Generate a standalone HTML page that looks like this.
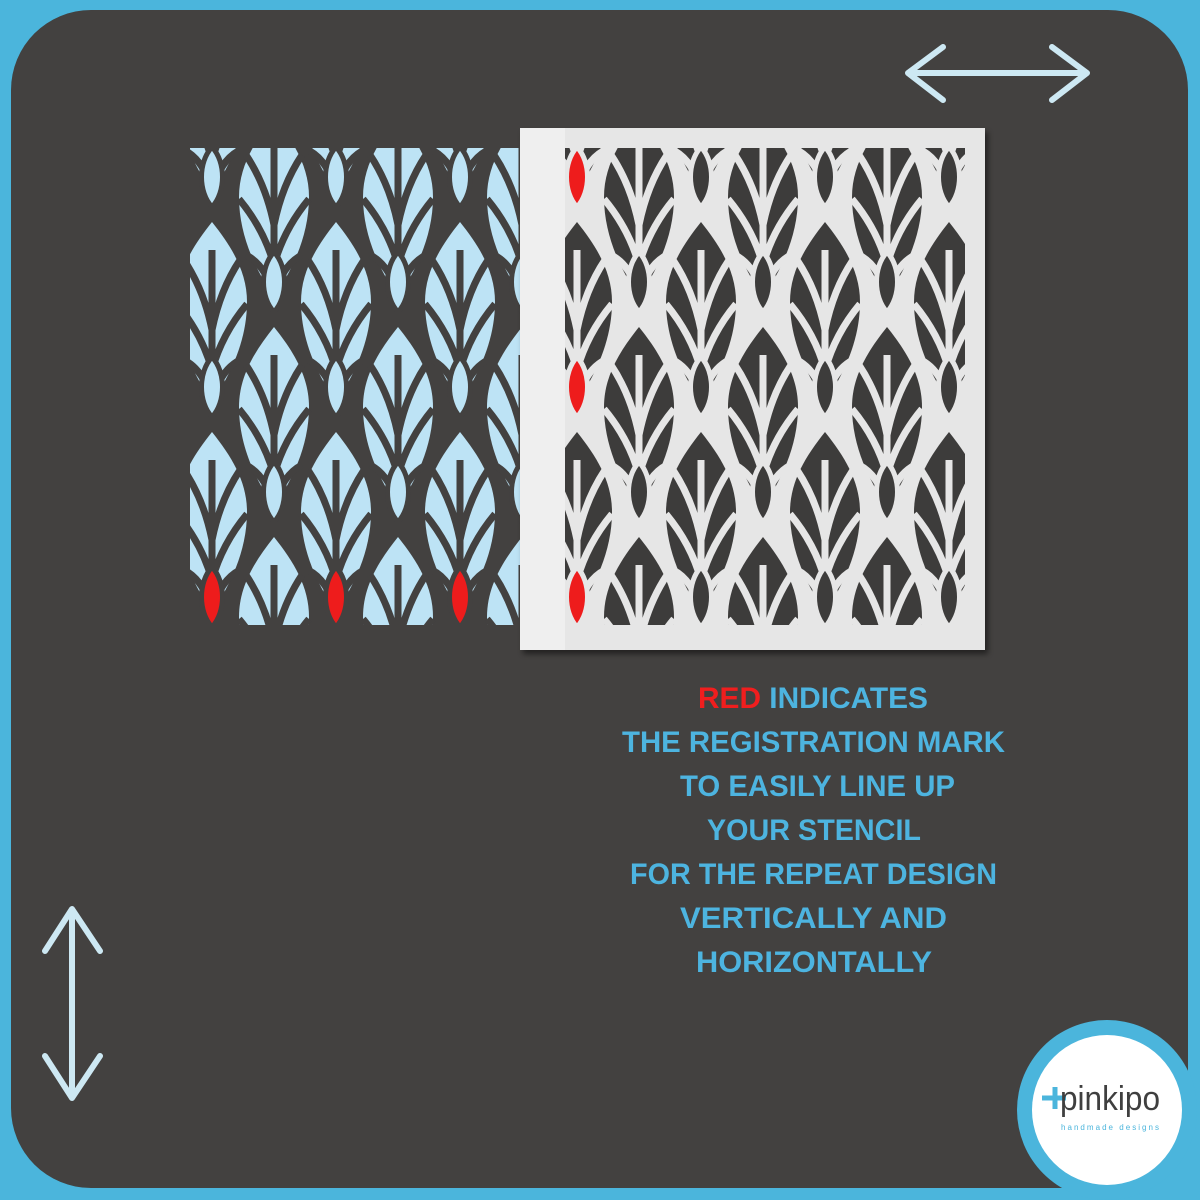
<!DOCTYPE html>
<html><head><meta charset="utf-8"><style>html,body{margin:0;padding:0;background:#4BB5DC}svg{display:block}</style></head>
<body>
<svg id="s" width="1200" height="1200" viewBox="0 0 1200 1200" xmlns="http://www.w3.org/2000/svg">
<defs>
<clipPath id="cl"><rect x="190" y="148" width="330" height="477"/></clipPath>
<clipPath id="cr"><rect x="565" y="148" width="400" height="477"/></clipPath>
<filter id="sh" x="-10%" y="-10%" width="130%" height="130%"><feDropShadow dx="3" dy="4" stdDeviation="3" flood-color="#000" flood-opacity="0.5"/></filter>
</defs>
<rect width="1200" height="1200" fill="#4BB5DC"/>
<rect x="11" y="10" width="1177" height="1178" rx="80" fill="#434140"/>
<g id="left" clip-path="url(#cl)"></g>
<rect x="520" y="128" width="465" height="522" fill="#E6E6E6" filter="url(#sh)"/>
<rect x="520" y="128" width="45" height="522" fill="#EFEFEF"/>
<g id="right" clip-path="url(#cr)"></g>
<g fill="none" stroke="#CDE8F3" stroke-width="6" stroke-linecap="round" stroke-linejoin="round">
<path d="M908,73 L1086,73 M1052,47 L1087,73 L1052,100 M943,47 L908,73 L943,100"/>
<path d="M72,910 L72,1097 M45,951 L72,909 L100,951 M45,1056 L72,1098 L100,1056"/>
</g>
<g font-family="Liberation Sans, sans-serif" font-weight="bold" font-size="30" fill="#4DB4E0" text-anchor="start">
<text x="698" y="708" textLength="230" lengthAdjust="spacingAndGlyphs"><tspan fill="#F01E1E">RED</tspan> INDICATES</text>
<text x="622" y="752" textLength="383" lengthAdjust="spacingAndGlyphs">THE REGISTRATION MARK</text>
<text x="680" y="796" textLength="275" lengthAdjust="spacingAndGlyphs">TO EASILY LINE UP</text>
<text x="707" y="840" textLength="214" lengthAdjust="spacingAndGlyphs">YOUR STENCIL</text>
<text x="630" y="884" textLength="367" lengthAdjust="spacingAndGlyphs">FOR THE REPEAT DESIGN</text>
<text x="680" y="928" textLength="267" lengthAdjust="spacingAndGlyphs">VERTICALLY AND</text>
<text x="696" y="972" textLength="236" lengthAdjust="spacingAndGlyphs">HORIZONTALLY</text>
</g>
<circle cx="1107" cy="1110" r="90" fill="#4BB5DC"/>
<circle cx="1107" cy="1110" r="75" fill="#FFFFFF"/>
<path d="M1042,1098 L1066,1098 M1055,1087 L1055,1109" stroke="#4BB5DC" stroke-width="5"/>
<text x="1060" y="1110" font-family="Liberation Sans, sans-serif" font-size="34" fill="#3F3F3F" textLength="100" lengthAdjust="spacingAndGlyphs">pinkipo</text>
<text x="1061" y="1130" font-family="Liberation Sans, sans-serif" font-size="8" fill="#4BB5DC" textLength="98" lengthAdjust="spacing">handmade designs</text>
</svg>
<script>
var NS="http://www.w3.org/2000/svg";
function add(g,tag,attrs){var e=document.createElementNS(NS,tag);for(var k in attrs)e.setAttribute(k,attrs[k]);g.appendChild(e);return e;}
var body="M0,0 C20,25 35,50 35,80 C35,120 17,155 0,180 C-17,155 -35,120 -35,80 C-35,50 -20,25 0,0Z";
var veins="M0,28 L0,150 M-28,38 Q-8,68 0,108 M28,38 Q8,68 0,108 M-35,82 Q-10,112 0,148 M35,82 Q10,112 0,148 M-28,138 Q-8,148 0,180 M28,138 Q8,148 0,180";
var alm="M0,-30 C14,-15 14,15 0,30 C-14,15 -14,-15 0,-30Z";
function draw(gid,x0,ncol,fill,bg,redCols){
 var g=document.getElementById(gid);
 if(gid=="left")add(g,"rect",{x:190,y:148,width:330,height:477,fill:bg});
 for(var i=0;i<ncol;i++){
  var x=x0+i*62, c=(i%2==0)?177:72;
  for(var k=-2;k<4;k++){
   var cy=c+k*210;
   var T=cy+45;
   add(g,"path",{d:body,transform:"translate("+x+","+T+")",fill:fill});
   add(g,"path",{d:veins,transform:"translate("+x+","+T+")",fill:"none",stroke:bg,"stroke-width":7});
   var red=redCols.indexOf(i)>=0 && (gid=="right"||cy>500);
   add(g,"path",{d:alm,transform:"translate("+x+","+cy+")",fill:red?"#EE1C1C":fill,stroke:bg,"stroke-width":5});
  }
 }
}
draw("left",212,6,"#BDE3F5","#434140",[0,2,4]);
draw("right",577,7,"#3D3C3B","#E6E6E6",[0]);
</script>
</body></html>
